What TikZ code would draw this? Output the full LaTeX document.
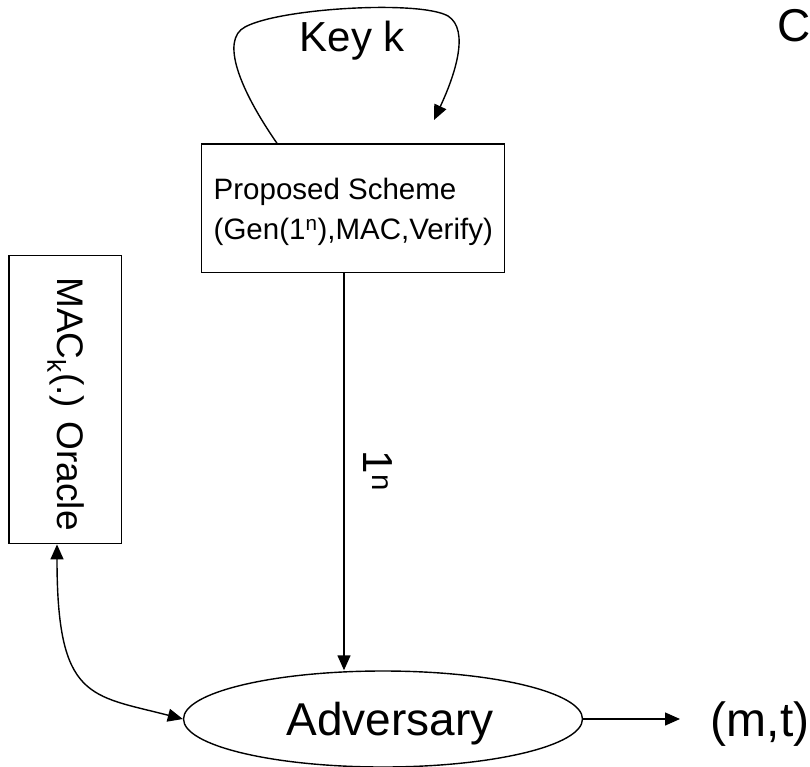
\documentclass[tikz,border=0pt]{standalone}
\usepackage{fontspec}
\setmainfont{Liberation Sans}
\usetikzlibrary{arrows.meta,shapes.geometric}
\begin{document}
\begin{tikzpicture}[x=1pt,y=-1pt,line width=1.4pt,
  onearrow/.style={-{Triangle[length=15pt,width=13pt]}},
  twoarrow/.style={{Triangle[length=15pt,width=13pt]}-{Triangle[length=15pt,width=13pt]}},
  boxed/.style={draw,rectangle,inner sep=0pt,anchor=north west},
  label/.style={inner sep=0pt}]
\useasboundingbox (0,0) rectangle (810,767);

% key generation loop label
\node[label,anchor=base,font=\fontsize{42}{50}\selectfont] (key) at (352.5,51.7) {Key k};

% the proposed scheme box
\node[boxed,minimum width=303pt,minimum height=128.5pt] (scheme) at (200.7,143.3) {};
\node[label,anchor=base west,font=\fontsize{29.5}{39}\selectfont] (schemeA) at (213,200) {Proposed Scheme};
\node[label,anchor=base west,font=\fontsize{29.5}{39}\selectfont] (schemeB) at (213,239.3) {(Gen(1\textsuperscript{n}),MAC,Verify)};

% the MAC oracle box
\node[boxed,minimum width=112.4pt,minimum height=288pt] (oracle) at (8.3,255) {};
\node[label,rotate=-90,font=\fontsize{37}{44}\selectfont] (oracletext) at (66,404) {MAC\textsubscript{k}(.) Oracle};

% the adversary
\node[draw,ellipse,minimum width=399pt,minimum height=96pt,inner sep=0pt] (adv) at (383,719) {};
\node[label,anchor=base,font=\fontsize{46}{54}\selectfont] (advtext) at (390,735) {Adversary};

% output of the adversary
\node[label,anchor=base west,font=\fontsize{48}{56}\selectfont] (out) at (710,736) {(m,t)};

% heading at the right edge
\node[label,anchor=base west,font=\fontsize{46}{54}\selectfont] (chal) at (777,42) {C};

% helper coordinates
\coordinate (lineX) at (344,0);
\coordinate (oracleX) at (57,0);
\coordinate (loopStart) at (277,143.3);
\coordinate (loopEnd) at (434,120);
\coordinate (outTip) at (680,719);

% connectors
\draw[onearrow] (loopStart) .. controls (240,90) and (220,40) .. (245,27)
  .. controls (280,8) and (420,0) .. (448,16)
  .. controls (470,30) and (455,75) .. (loopEnd);

\draw[onearrow] (scheme.south -| lineX) -- (adv.north -| lineX);
\node[label,rotate=-90,font=\fontsize{42}{50}\selectfont] (nlabel) at (378,471) {1\textsuperscript{n}};

\draw[twoarrow] (oracle.south -| oracleX) .. controls (57,700) and (90,695) .. (adv.west);

\draw[onearrow] (adv.east) -- (outTip);
\end{tikzpicture}
\end{document}
